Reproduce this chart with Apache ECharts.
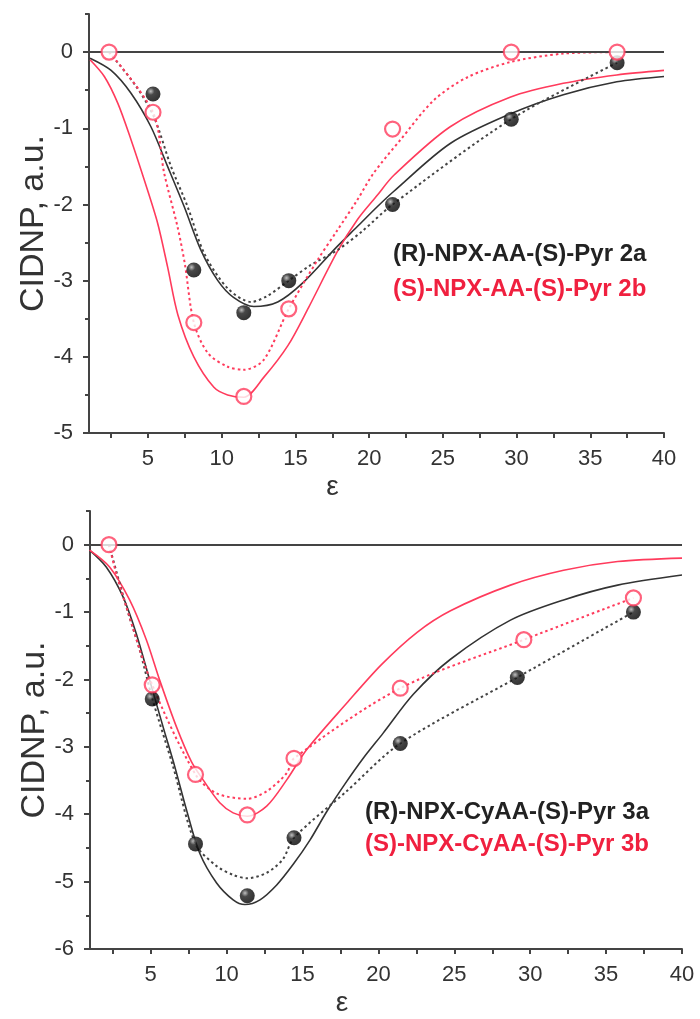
<!DOCTYPE html>
<html>
<head>
<meta charset="utf-8">
<script src="https://cdn.jsdelivr.net/npm/echarts@6/dist/echarts.min.js"></script>
<style>
  html, body { margin: 0; padding: 0; background: #fff; }
  #main { width: 700px; height: 1019px; }
</style>
</head>
<body>
<div id="main"></div>
<script>
// ---- top panel: NPX-AA-Pyr 2a / 2b ----
const eps2a = [5.34, 8.11, 11.5, 14.55, 21.59, 29.64, 36.82];
const cidnp2a = [-0.55, -2.86, -3.42, -3.0, -2.0, -0.88, -0.14];
const eps2b = [2.36, 5.34, 8.11, 11.5, 14.55, 21.59, 29.64, 36.82];
const cidnp2b = [0, -0.79, -3.55, -4.52, -3.37, -1.01, 0, 0];

// solid fit curves
const fit2aX = [1.07, 2.5, 3.85, 5.2, 6.33, 7.46, 8.59, 9.74, 10.8, 12.18, 13.8, 15.5, 17.84, 19.2, 20.55, 21.66, 25.5, 29.6, 33.17, 36.8, 40];
const fit2aY = [-0.08, -0.24, -0.54, -0.98, -1.5, -2.03, -2.6, -3.0, -3.22, -3.34, -3.28, -3.03, -2.55, -2.29, -2.03, -1.83, -1.2, -0.81, -0.56, -0.39, -0.32];
const fit2bX = [1.07, 2.04, 2.95, 3.85, 4.75, 5.66, 6.33, 7.03, 8.11, 9.47, 10.4, 11.5, 12.85, 14.5, 15.9, 17.84, 19.2, 20.55, 21.66, 25.5, 29.6, 33.17, 36.8, 40];
const fit2bY = [-0.1, -0.32, -0.67, -1.15, -1.68, -2.25, -2.82, -3.45, -4.0, -4.40, -4.50, -4.53, -4.27, -3.85, -3.35, -2.62, -2.2, -1.88, -1.62, -0.98, -0.59, -0.41, -0.30, -0.24];

// dotted guide curves
const dot2aX = [2.36, 4.2, 5.4, 6.56, 7.69, 8.81, 10.4, 12.0, 13.1, 14.55, 16.0, 17.84, 19.6, 21.59, 29.64, 36.82];
const dot2aY = [0, -0.45, -0.85, -1.5, -2.03, -2.64, -3.1, -3.28, -3.2, -3.0, -2.8, -2.6, -2.34, -2.0, -0.88, -0.14];
const dot2bX = [2.36, 5.34, 6.1, 7.0, 7.5, 8.11, 9.06, 10.4, 11.5, 12.85, 14.55, 16.5, 17.84, 19.2, 20.3, 22.13, 24.4, 26.67, 29.6, 33.17, 36.82];
const dot2bY = [0, -0.79, -1.59, -2.29, -2.78, -3.55, -3.95, -4.13, -4.17, -4.04, -3.37, -2.73, -2.34, -1.94, -1.59, -1.15, -0.63, -0.33, -0.13, -0.02, 0];

// ---- bottom panel: NPX-CyAA-Pyr 3a / 3b ----
const eps3a = [5.1, 7.95, 11.36, 14.44, 21.44, 29.15, 36.8];
const cidnp3a = [-2.29, -4.44, -5.21, -4.35, -2.95, -1.97, -1.0];
const eps3b = [2.25, 5.1, 7.95, 11.36, 14.44, 21.44, 29.58, 36.8];
const cidnp3b = [0, -2.08, -3.41, -4.01, -3.17, -2.13, -1.41, -0.79];

const fit3aX = [0.97, 2.07, 3.17, 4.05, 4.93, 5.81, 6.58, 7.35, 8.23, 9.34, 10.43, 11.2, 12.2, 13.3, 14.4, 15.5, 16.6, 17.8, 19.0, 20.3, 22.3, 24.75, 28.7, 32.2, 35.76, 40];
const fit3aY = [-0.08, -0.33, -0.77, -1.32, -2.01, -2.70, -3.29, -3.93, -4.58, -5.02, -5.27, -5.34, -5.27, -5.05, -4.74, -4.38, -3.96, -3.55, -3.17, -2.8, -2.22, -1.70, -1.12, -0.82, -0.60, -0.45];
const fit3bX = [0.97, 2.29, 3.61, 4.71, 5.59, 6.69, 7.68, 8.45, 9.55, 10.43, 11.36, 12.64, 13.96, 15.28, 17.92, 20.2, 22.55, 24.75, 28.7, 32.2, 35.76, 40];
const fit3bY = [-0.08, -0.33, -0.82, -1.41, -2.01, -2.70, -3.22, -3.49, -3.83, -3.98, -4.03, -3.88, -3.49, -3.04, -2.35, -1.78, -1.30, -0.98, -0.60, -0.38, -0.25, -0.20];

const dot3aX = [2.25, 3.39, 4.27, 5.1, 6.47, 7.95, 9.34, 10.43, 11.36, 12.64, 13.7, 14.44, 17.9, 21.44, 29.15, 36.8];
const dot3aY = [0, -0.92, -1.56, -2.28, -3.29, -4.44, -4.77, -4.90, -4.95, -4.87, -4.67, -4.35, -3.66, -2.95, -1.97, -1.0];
const dot3bX = [2.25, 2.73, 3.39, 5.1, 7.95, 9.34, 11.36, 12.64, 13.96, 14.44, 21.44, 29.58, 36.8];
const dot3bY = [0, -0.43, -0.92, -2.08, -3.41, -3.69, -3.77, -3.66, -3.39, -3.17, -2.13, -1.41, -0.79];

const xLabels = [5, 10, 15, 20, 25, 30, 35, 40];
const xTicks = [2.5, 5, 7.5, 10, 12.5, 15, 17.5, 20, 22.5, 25, 27.5, 30, 32.5, 35, 37.5, 40];
const yMajorTop = [-5, -4, -3, -2, -1, 0];
const yMinorTop = [-4.5, -3.5, -2.5, -1.5, -0.5, 0.5];
const yMajorBot = [-6, -5, -4, -3, -2, -1, 0];
const yMinorBot = [-5.5, -4.5, -3.5, -2.5, -1.5, -0.5, 0.5];

const names = {
  a2: '(R)-NPX-AA-(S)-Pyr 2a',
  b2: '(S)-NPX-AA-(S)-Pyr 2b',
  a3: '(R)-NPX-CyAA-(S)-Pyr 3a',
  b3: '(S)-NPX-CyAA-(S)-Pyr 3b'
};

const FONT = '"Liberation Sans", Arial, sans-serif';
const AXIS = '#444';
const BLACK = '#333';
const RED = '#ff3b5c';
const RED_TEXT = '#f0203f';

function zip(xs, ys) {
  return xs.map((x, i) => [x, ys[i]]);
}

const ball = new echarts.graphic.RadialGradient(0.35, 0.32, 0.7, [
  { offset: 0, color: '#b0b0b0' },
  { offset: 0.35, color: '#1a1a1a' },
  { offset: 1, color: '#000' }
]);

function xAxis(grid) {
  return {
    type: 'value', gridIndex: grid, min: 1, max: 40, position: 'bottom',
    splitLine: { show: false },
    name: 'ε',
    nameLocation: 'middle',
    nameGap: 40,
    nameTextStyle: { fontSize: 28, color: BLACK, fontFamily: FONT, padding: [0, 88, 0, 0] },
    axisLine: { onZero: false, lineStyle: { color: AXIS, width: 2 } },
    axisTick: { customValues: xTicks, length: 5, lineStyle: { color: AXIS, width: 2 } },
    axisLabel: { customValues: xLabels, fontSize: 22, color: BLACK, fontFamily: FONT, margin: 15 }
  };
}

function yAxes(grid, min, major, minor) {
  const base = {
    type: 'value', gridIndex: grid, min: min, max: 0.5, position: 'left', splitLine: { show: false }
  };
  return [
    Object.assign({}, base, {
      name: 'CIDNP, a.u.',
      nameLocation: 'middle',
      nameGap: 38,
      nameMoveOverlap: false,
      nameTextStyle: { fontSize: 34, color: BLACK, fontFamily: FONT },
      axisLine: { onZero: false, lineStyle: { color: AXIS, width: 2 } },
      axisTick: { customValues: major, length: 6, lineStyle: { color: AXIS, width: 2 } },
      axisLabel: { customValues: major, fontSize: 22, color: BLACK, fontFamily: FONT, margin: 16 }
    }),
    Object.assign({}, base, {
      axisLine: { show: false, onZero: false },
      axisTick: { customValues: minor, length: 4, lineStyle: { color: AXIS, width: 2 } },
      axisLabel: { show: false }
    })
  ];
}

function curve(name, axis, xs, ys, color, dotted, width) {
  return {
    name: name,
    type: 'line',
    xAxisIndex: axis,
    yAxisIndex: axis * 2,
    data: zip(xs, ys),
    smooth: 0.3,
    symbol: 'none',
    silent: true,
    z: 2,
    lineStyle: { color: color, width: width, type: dotted ? [2.5, 3] : 'solid' }
  };
}

function zeroLine() {
  return {
    silent: true,
    symbol: ['none', 'none'],
    label: { show: false },
    lineStyle: { color: AXIS, width: 2, type: 'solid' },
    data: [{ yAxis: 0 }]
  };
}

function dots(name, axis, xs, ys, filled) {
  return {
    name: name,
    type: 'scatter',
    xAxisIndex: axis,
    yAxisIndex: axis * 2,
    data: zip(xs, ys),
    symbol: 'circle',
    symbolSize: 15,
    z: 5,
    itemStyle: filled
      ? { color: ball, borderWidth: 0 }
      : { color: '#fff', borderColor: RED, borderWidth: 2.2 }
  };
}

function legendFor(top, left, gap, a, b) {
  return {
    orient: 'vertical',
    left: left,
    top: top,
    icon: 'none',
    itemWidth: 0,
    itemHeight: 20,
    itemGap: gap,
    selectedMode: false,
    textStyle: { fontSize: 24, fontWeight: 'bold', fontFamily: FONT },
    data: [
      { name: a, textStyle: { color: '#222' } },
      { name: b, textStyle: { color: RED_TEXT } }
    ]
  };
}

const chart = echarts.init(document.getElementById('main'), null, { renderer: 'canvas' });

const top2aFit = curve(names.a2, 0, fit2aX, fit2aY, BLACK, false, 1.6);
top2aFit.markLine = zeroLine();
const bot3aFit = curve(names.a3, 1, fit3aX, fit3aY, BLACK, false, 1.6);
bot3aFit.markLine = zeroLine();

chart.setOption({
  animation: false,
  backgroundColor: '#fff',
  grid: [
    { left: 89, right: 36, top: 14, bottom: 586 },
    { left: 90, right: 18, top: 511, bottom: 70 }
  ],
  legend: [
    legendFor(237, 383, 11, names.a2, names.b2),
    legendFor(795, 355, 8, names.a3, names.b3)
  ],
  xAxis: [xAxis(0), xAxis(1)],
  yAxis: yAxes(0, -5, yMajorTop, yMinorTop).concat(yAxes(1, -6, yMajorBot, yMinorBot)),
  series: [
    top2aFit,
    curve(names.b2, 0, fit2bX, fit2bY, RED, false, 1.6),
    curve('dot2a', 0, dot2aX, dot2aY, '#444', true, 2),
    curve('dot2b', 0, dot2bX, dot2bY, RED, true, 2),
    dots('pts2a', 0, eps2a, cidnp2a, true),
    dots('pts2b', 0, eps2b, cidnp2b, false),

    bot3aFit,
    curve(names.b3, 1, fit3bX, fit3bY, RED, false, 1.6),
    curve('dot3a', 1, dot3aX, dot3aY, '#444', true, 2),
    curve('dot3b', 1, dot3bX, dot3bY, RED, true, 2),
    dots('pts3a', 1, eps3a, cidnp3a, true),
    dots('pts3b', 1, eps3b, cidnp3b, false)
  ]
});
</script>
</body>
</html>
